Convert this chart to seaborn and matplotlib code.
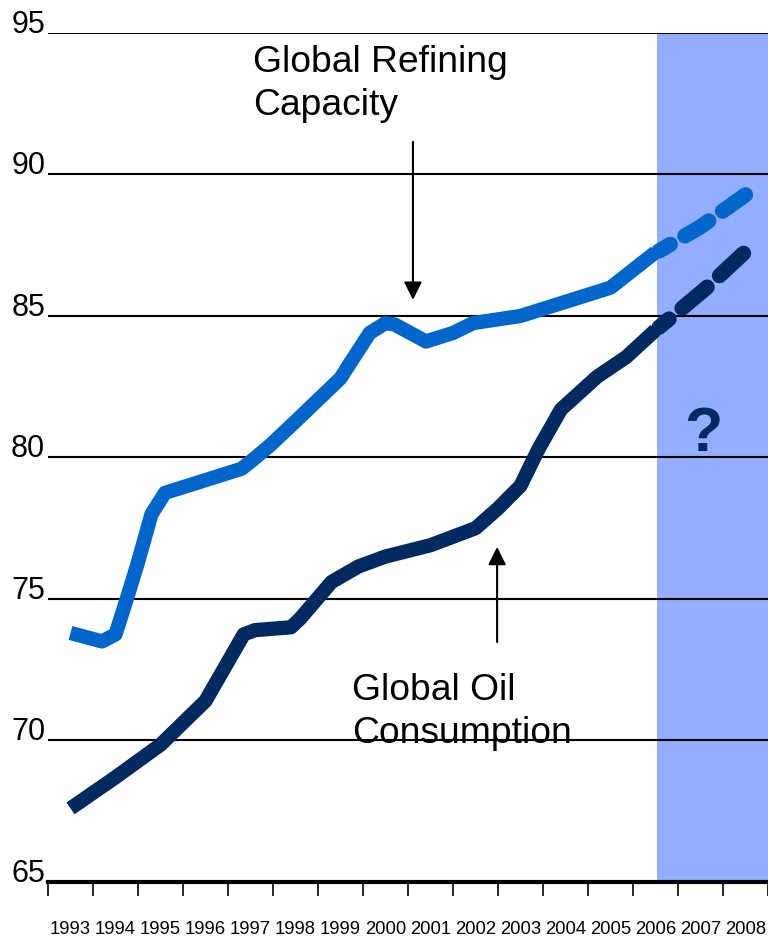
import matplotlib
matplotlib.use("Agg")
import pandas as pd
import matplotlib.pyplot as plt
import seaborn as sns

# values (million barrels / day)
refining_years = [1993.0, 1993.7, 1994.0, 1994.25, 1994.5, 1994.8, 1995.1, 1996.0,
                  1996.8, 1997.0, 1997.45, 1997.95, 1999.0, 1999.2, 1999.65, 2000.0,
                  2000.2, 2000.9, 2001.5, 2001.95, 2003.0, 2003.9, 2005.0, 2006.0]
refining_values = [73.8, 73.5, 73.75, 75.0, 76.3, 78.0, 78.75, 79.2,
                   79.6, 79.85, 80.45, 81.2, 82.8, 83.3, 84.4, 84.75,
                   84.7, 84.1, 84.4, 84.75, 85.0, 85.45, 86.0, 87.25]

consumption_years = [1993.0, 1994.0, 1995.0, 1996.0, 1996.85, 1997.1, 1997.9, 1998.1,
                     1998.8, 1999.4, 2000.0, 2001.0, 2002.0, 2002.5, 2003.0, 2003.4,
                     2003.9, 2004.7, 2005.35, 2006.0]
consumption_values = [67.6, 68.7, 69.85, 71.4, 73.75, 73.9, 74.0, 74.3,
                      75.6, 76.15, 76.5, 76.9, 77.5, 78.2, 79.0, 80.3,
                      81.7, 82.85, 83.55, 84.5]

# forecast part (dashed)
refining_fc_years = [2006.08, 2007.0, 2008.15]
refining_fc_values = [87.3, 88.15, 89.45]
consumption_fc_years = [2006.08, 2007.1, 2008.15]
consumption_fc_values = [84.6, 85.95, 87.5]

year_labels = ["1993", "1994", "1995", "1996", "1997", "1998", "1999", "2000",
               "2001", "2002", "2003", "2004", "2005", "2006", "2007", "2008"]
y_ticks = [65, 70, 75, 80, 85, 90, 95]

light_blue = "#0066CC"
navy = "#002A60"
shade = "#93AEFE"

sns.set_style("white")
plt.rcParams["font.family"] = ["Liberation Sans", "DejaVu Sans"]
plt.rcParams["text.color"] = "black"
plt.rcParams["xtick.color"] = "black"
plt.rcParams["ytick.color"] = "black"

fig = plt.figure(figsize=(7.68, 9.42), dpi=100)
ax = fig.add_axes([0.0625, 0.0637, 0.9375, 0.9013])

# forecast zone
ax.axvspan(2006.03, 2008.5, color=shade, lw=0, zorder=0)

ref = pd.DataFrame({"year": refining_years, "value": refining_values})
con = pd.DataFrame({"year": consumption_years, "value": consumption_values})
ref_fc = pd.DataFrame({"year": refining_fc_years, "value": refining_fc_values})
con_fc = pd.DataFrame({"year": consumption_fc_years, "value": consumption_fc_values})

lw = 10.3
lw_fc = 11.0
sns.lineplot(data=ref, x="year", y="value", color=light_blue, linewidth=lw,
             solid_capstyle="butt", ax=ax, zorder=3)
sns.lineplot(data=con, x="year", y="value", color=navy, linewidth=lw,
             solid_capstyle="butt", ax=ax, zorder=3)
sns.lineplot(data=ref_fc, x="year", y="value", color=light_blue, linewidth=lw_fc,
             linestyle=(1.0, (1.85, 1.1)), dash_capstyle="round", ax=ax, zorder=3)
sns.lineplot(data=con_fc, x="year", y="value", color=navy, linewidth=lw_fc,
             linestyle=(1.3, (2.15, 1.1)), dash_capstyle="round", ax=ax, zorder=3)

ax.set_xlim(1992.5, 2008.5)
ax.set_ylim(65, 95)
ax.set_xlabel("")
ax.set_ylabel("")

# horizontal grid
ax.set_axisbelow(True)
ax.set_yticks(y_ticks)
ax.set_yticklabels([str(v) for v in y_ticks], fontsize=22)
for lbl in ax.get_yticklabels():
    lbl.set_verticalalignment("baseline")
ax.yaxis.grid(True, color="black", linewidth=1.5)
ax.xaxis.grid(False)
ax.tick_params(axis="y", length=0, pad=2)

# years centred between boundary ticks
ax.set_xticks(range(1993, 2009))
ax.set_xticklabels(year_labels, fontsize=13.3)
ax.set_xticks([y - 0.5 for y in range(1993, 2010)], minor=True)
ax.tick_params(axis="x", which="major", length=0, pad=28)
ax.tick_params(axis="x", which="minor", length=10, width=1.2, direction="out",
               color="black", bottom=True)

for s in ["left", "right", "top"]:
    ax.spines[s].set_visible(False)
ax.spines["bottom"].set_linewidth(3)
ax.spines["bottom"].set_color("black")

# labels and arrows
ax.text(1997.06, 94.57, "Global Refining\nCapacity", fontsize=26.8, va="top",
        ha="left", linespacing=1.3)
ax.annotate("", xy=(2000.61, 85.57), xytext=(2000.61, 91.15),
            arrowprops=dict(arrowstyle="-|>,head_length=0.6,head_width=0.3",
                            mutation_scale=18, color="black", lw=1.5,
                            shrinkA=0, shrinkB=0))
ax.text(1999.26, 72.4, "Global Oil\nConsumption", fontsize=26.8, va="top",
        ha="left", linespacing=1.3)
ax.annotate("", xy=(2002.48, 76.84), xytext=(2002.48, 73.48),
            arrowprops=dict(arrowstyle="-|>,head_length=0.6,head_width=0.3",
                            mutation_scale=18, color="black", lw=1.5,
                            shrinkA=0, shrinkB=0))
ax.text(2007.06, 80.8, "?", fontsize=45, fontweight="bold", color=navy,
        ha="center", va="center")

fig.savefig("out.png", dpi=100)
